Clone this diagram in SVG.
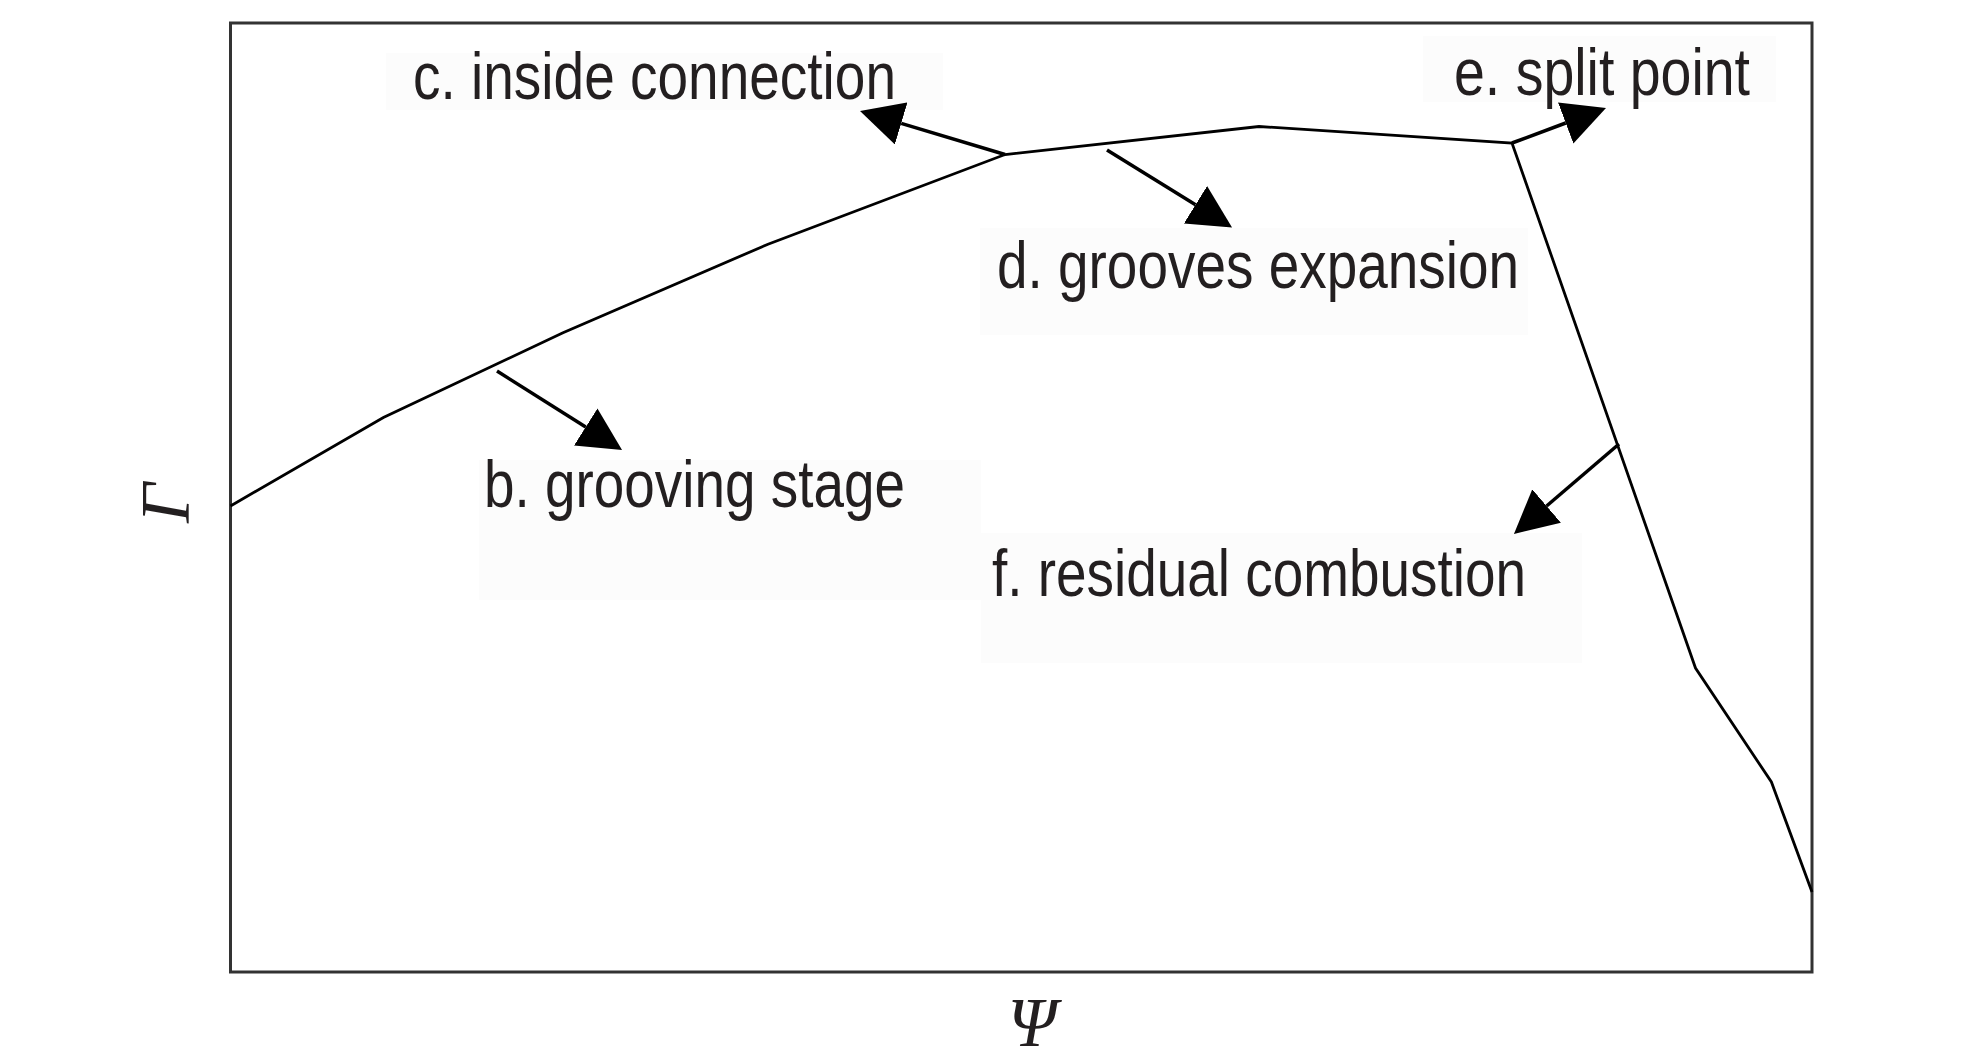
<svg xmlns="http://www.w3.org/2000/svg" width="1984" height="1063" viewBox="0 0 1984 1063">
  <style>
    .lbl { font-family: "Liberation Sans", Arial, sans-serif; font-size: 66px; fill: #231f20; }
    .axis { font-family: "Liberation Serif", "Times New Roman", serif; font-style: italic; font-size: 70px; fill: #231f20; }
    .bg { fill: #fcfcfc; stroke: none; }
    .curve { fill: none; stroke: #000; stroke-width: 2.8; stroke-linejoin: miter; }
    .arrow { fill: none; stroke: #000; stroke-width: 3.5; marker-end: url(#ah); }
    .frame { fill: none; stroke: #333; stroke-width: 3; }
  </style>
  <defs>
    <marker id="ah" markerUnits="userSpaceOnUse" viewBox="0 0 43 44" refX="0" refY="22" markerWidth="43" markerHeight="44" orient="auto">
      <path d="M0,0 L43,22 L0,44 Z" fill="#000"/>
    </marker>
  </defs>
  <rect width="1984" height="1063" fill="#fff"/>

  <g id="label-backgrounds">
    <rect class="bg" x="386" y="53" width="557" height="57"/>
    <rect class="bg" x="1423" y="36" width="353" height="66"/>
    <rect class="bg" x="980" y="228" width="548" height="107"/>
    <rect class="bg" x="479" y="460" width="502" height="140"/>
    <rect class="bg" x="981" y="533" width="601" height="130"/>
  </g>

  <g id="frame">
    <rect class="frame" x="230.5" y="23" width="1581.5" height="949"/>
  </g>

  <g id="curve">
    <polyline class="curve" points="230.5,506 383.4,417.5 563,332.8 768,244.2 1005,154.5 1259,126.5 1512,143 1695.5,668 1771.4,782 1812,892"/>
  </g>

  <g id="connectors">
    <line class="arrow" x1="497" y1="371" x2="585.7" y2="427"/>
    <line class="arrow" x1="1005" y1="154.5" x2="901.2" y2="123.4"/>
    <line class="arrow" x1="1107" y1="150" x2="1195.5" y2="204.8"/>
    <line class="arrow" x1="1512" y1="143" x2="1565.7" y2="123"/>
    <line class="arrow" x1="1619" y1="444" x2="1546.6" y2="506"/>
  </g>

  <g id="node-b"><text class="lbl" x="484" y="507" textLength="421" lengthAdjust="spacingAndGlyphs">b. grooving stage</text></g>
  <g id="node-c"><text class="lbl" x="413" y="99" textLength="483" lengthAdjust="spacingAndGlyphs">c. inside connection</text></g>
  <g id="node-d"><text class="lbl" x="997" y="288" textLength="522" lengthAdjust="spacingAndGlyphs">d. grooves expansion</text></g>
  <g id="node-e"><text class="lbl" x="1454" y="95" textLength="296" lengthAdjust="spacingAndGlyphs">e. split point</text></g>
  <g id="node-f"><text class="lbl" x="992" y="596" textLength="534" lengthAdjust="spacingAndGlyphs">f. residual combustion</text></g>

  <g id="axis-y"><text class="axis" transform="translate(189,503) rotate(-90)" text-anchor="middle">Γ</text></g>
  <g id="axis-x"><text class="axis" x="1032" y="1046" text-anchor="middle">Ψ</text></g>
</svg>
